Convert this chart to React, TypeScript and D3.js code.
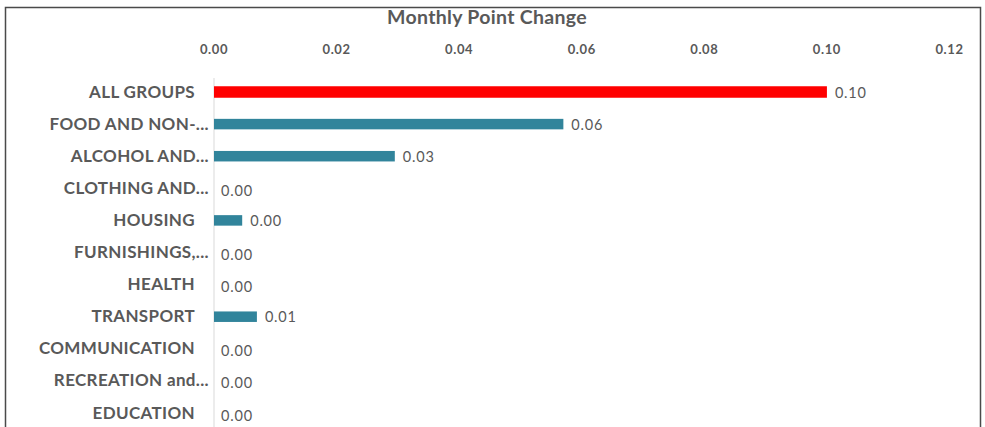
import React from "react";
import * as d3 from "d3";

const categories = [
  "ALL GROUPS",
  "FOOD AND NON-...",
  "ALCOHOL AND...",
  "CLOTHING AND...",
  "HOUSING",
  "FURNISHINGS,...",
  "HEALTH",
  "TRANSPORT",
  "COMMUNICATION",
  "RECREATION and...",
  "EDUCATION",
];
const values = [0.1, 0.057, 0.0295, 0, 0.0046, 0, 0, 0.007, 0, 0, 0];
const tickValues = [0, 0.02, 0.04, 0.06, 0.08, 0.1, 0.12];
const title = "Monthly Point Change";

const W = 985;
const H = 427;
const FONT = "Lato, 'Open Sans', sans-serif";

export default function App() {
  const x = d3.scaleLinear().domain([0, 0.12]).range([214, 949.5]);
  const y = d3
    .scalePoint<string>()
    .domain(categories)
    .range([92, 92 + 32.1 * (categories.length - 1)]);
  const barH = (i: number) => (i === 0 ? 11.5 : 10.5);
  const fmt = d3.format(".2f");
  return (
    <svg
      width={W}
      height={H}
      style={{ position: "absolute", left: 0, top: 0, background: "#fff" }}
    >
      <rect x={0} y={0} width={W} height={H} fill="#fff" />
      <path d="M5.5,427 V7.5 H980.5 V427" fill="none" stroke="#4a4a4a" strokeWidth={1.5} />
      <text
        x={487}
        y={24}
        textAnchor="middle"
        fontFamily={FONT}
        fontSize={19.5}
        fontWeight={700}
        letterSpacing={0.3}
        fill="#595959"
      >
        {title}
      </text>
      {tickValues.map((t) => (
        <text
          key={t}
          x={x(t)}
          y={54}
          textAnchor="middle"
          fontFamily={FONT}
          fontSize={13}
          fontWeight={700}
          letterSpacing={0.6}
          fill="#595959"
        >
          {fmt(t)}
        </text>
      ))}
      <line x1={x(0)} x2={x(0)} y1={78} y2={427} stroke="#d9d9d9" strokeWidth={1} />
      {categories.map((c, i) => {
        const yc = y(c) as number;
        const truncated = c.endsWith("...");
        return (
          <g key={c}>
            <text
              x={truncated ? 209 : 195}
              y={yc + 5.5}
              textAnchor="end"
              fontFamily={FONT}
              fontSize={17}
              fontWeight={700}
              letterSpacing={0.35}
              fill="#595959"
            >
              {c}
            </text>
            {values[i] > 0 && (
              <rect
                x={x(0)}
                y={yc - barH(i) / 2}
                width={x(values[i]) - x(0)}
                height={barH(i)}
                fill={i === 0 ? "#ff0000" : "#31849b"}
              />
            )}
            <text
              x={x(values[i]) + (values[i] > 0 ? 8 : 7)}
              y={yc + (values[i] > 0 ? 5.5 : 7.5)}
              fontFamily={FONT}
              fontSize={14.5}
              letterSpacing={0.8}
              fill="#595959"
            >
              {fmt(values[i])}
            </text>
          </g>
        );
      })}
    </svg>
  );
}
